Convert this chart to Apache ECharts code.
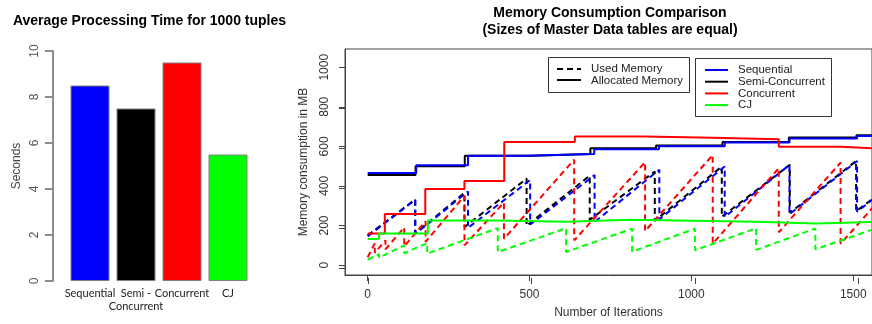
<!DOCTYPE html>
<html>
<head>
<meta charset="utf-8">
<script src="https://cdn.jsdelivr.net/npm/echarts@6/dist/echarts.min.js"></script>
<style>
  html, body { margin: 0; padding: 0; background: #fff; }
  #main { width: 872px; height: 324px; }
</style>
</head>
<body>
<div id="main"></div>
<script>
// left chart: average processing time
var barCategories = ['Sequential', 'Semi -\nConcurrent', 'Concurrent', 'CJ'];
var barSeconds = [8.5, 7.5, 9.5, 5.5];
var barColors = ['#0000ff', '#000000', '#ff0000', '#00ff00'];
var secondsTicks = [0, 2, 4, 6, 8, 10];

// right chart: memory consumption (x = iteration, y = MB)
var iterTicks = [0, 500, 1000, 1500];
var mbTicks = [0, 200, 400, 600, 800, 1000];
var seriesNames = ['Sequential', 'Semi-Concurrent', 'Concurrent', 'CJ'];
var lineColors = ['#0000ff', '#000000', '#ff0000', '#00ff00'];

// allocated memory, step points (value holds from x onwards)
var seqAlloc = [[0,465],[150,505],[310,553],[500,562],[700,585],[900,600],[1103,619],[1303,640],[1512,652],[1560,652]];
var semiAlloc = [[0,455],[148,500],[300,553],[500,562],[688,590],[891,605],[1096,622],[1301,645],[1510,656],[1560,656]];
var concAlloc = [[0,160],[53,258],[178,385],[299,425],[422,622],[640,650],[857,643],[1066,636],[1270,598],[1462,590],[1560,590]];
var cjAlloc = [[0,132],[35,160],[186,226],[402,219],[617,229],[815,219],[1200,210],[1385,218],[1560,218]];

// used memory (sawtooth, repeated x = drop after GC)
var seqUsed = [[0,145],[147,330],[147,158],[310,372],[310,188],[502,430],[502,205],[701,455],[701,218],[901,482],[901,232],[1103,498],[1103,244],[1303,506],[1303,257],[1512,526],[1512,270],[1560,332]];
var semiUsed = [[0,150],[147,332],[147,160],[299,365],[299,192],[491,437],[491,199],[686,452],[686,229],[887,473],[887,224],[1094,498],[1094,244],[1304,507],[1304,264],[1509,526],[1509,272],[1560,335]];
var concUsed = [[0,40],[22,110],[22,62],[55,125],[55,80],[113,190],[113,95],[179,222],[179,118],[299,350],[299,100],[421,316],[421,133],[638,533],[638,125],[857,520],[857,172],[1066,556],[1066,108],[1270,490],[1270,166],[1461,518],[1461,108],[1560,290]];
var cjUsed = [[0,28],[35,55],[35,38],[113,100],[113,60],[184,112],[184,58],[402,187],[402,66],[613,186],[613,66],[817,184],[817,68],[1011,184],[1011,75],[1200,186],[1200,77],[1383,185],[1383,80],[1560,180]];

var usedData = [seqUsed, semiUsed, concUsed, cjUsed];
var allocData = [seqAlloc, semiAlloc, concAlloc, cjAlloc];

var FONT = '"Liberation Sans", Arial, sans-serif';
var chart = echarts.init(document.getElementById('main'));

function plain(v) { return String(v); }

// grid geometry
var g0 = { left: 67, top: 51, width: 184, height: 230 };
var g1 = { left: 345, top: 49, right: -5, bottom: 46 };
var yOffset0 = 14;
var yRange0 = [0, 10];
var xRange1 = [-70, 1558];
var yRange1 = [-50, 1092];

// draw order: semi, seq, conc, cj
var order = [1, 0, 2, 3];
var series = [];
series.push({
  type: 'bar', xAxisIndex: 0, yAxisIndex: 0, barWidth: 39,
  data: barSeconds.map(function (v, i) {
    return { value: v, itemStyle: { color: barColors[i] } };
  }),
  itemStyle: { borderColor: '#808080', borderWidth: 1 },
  silent: true
});
order.forEach(function (i) {
  series.push({
    name: seriesNames[i] + ' used', type: 'line', xAxisIndex: 1, yAxisIndex: 1,
    data: usedData[i], symbol: 'none', silent: true,
    lineStyle: { color: lineColors[i], width: 2, type: [6, 4] }
  });
});
order.forEach(function (i) {
  series.push({
    name: seriesNames[i] + ' allocated', type: 'line', step: 'end', xAxisIndex: 1, yAxisIndex: 1,
    data: allocData[i], symbol: 'none', silent: true,
    lineStyle: { color: lineColors[i], width: 2 }
  });
});

var option = {
  animation: false,
  grid: [
    g0,
    { left: g1.left, top: g1.top, right: g1.right, bottom: g1.bottom, show: true, borderColor: '#444', borderWidth: 1, backgroundColor: 'transparent' }
  ],
  xAxis: [
    {
      type: 'category', gridIndex: 0, data: barCategories,
      axisLine: { show: false }, axisTick: { show: false },
      axisLabel: { margin: 6, fontFamily: 'Lato, sans-serif', fontSize: 11, color: '#222', lineHeight: 13, interval: 0 }
    },
    {
      type: 'value', gridIndex: 1, min: xRange1[0], max: xRange1[1],
      axisLine: { show: true, onZero: false, lineStyle: { color: '#444', width: 1 } },
      axisTick: { show: true, length: 6, customValues: iterTicks, lineStyle: { color: '#444' } },
      axisLabel: { customValues: iterTicks, formatter: plain, margin: 14, fontFamily: FONT, fontSize: 12, color: '#333' },
      splitLine: { show: false },
      name: 'Number of Iterations', nameLocation: 'middle', nameGap: 32,
      nameTextStyle: { fontFamily: FONT, fontSize: 12, color: '#333' }
    }
  ],
  yAxis: [
    {
      type: 'value', gridIndex: 0, min: yRange0[0], max: yRange0[1], interval: 2, offset: yOffset0,
      axisLine: { show: true, onZero: false, lineStyle: { color: '#8c8c8c', width: 2 } },
      axisTick: { show: true, length: 8, lineStyle: { color: '#8c8c8c', width: 2 } },
      axisLabel: { rotate: 90, margin: 12, fontFamily: FONT, fontSize: 12, color: '#555' },
      splitLine: { show: false },
      name: 'Seconds', nameLocation: 'middle', nameRotate: 90, nameGap: 30,
      nameTextStyle: { fontFamily: FONT, fontSize: 12, color: '#444' }
    },
    {
      type: 'value', gridIndex: 1, min: yRange1[0], max: yRange1[1],
      axisLine: { show: true, onZero: false, lineStyle: { color: '#444', width: 1 } },
      axisTick: { show: true, length: 6, customValues: mbTicks, lineStyle: { color: '#444' } },
      axisLabel: { rotate: 90, customValues: mbTicks, formatter: plain, margin: 14, fontFamily: FONT, fontSize: 12, color: '#333' },
      splitLine: { show: false },
      name: 'Memory consumption in MB', nameLocation: 'middle', nameRotate: 90, nameGap: 35,
      nameTextStyle: { fontFamily: FONT, fontSize: 12, color: '#333' }
    }
  ],
  series: series
};
chart.setOption(option);

// axis decorations: linear mapping over each grid's own axis range
var H = 324, W = 872;
var leftAxisX = g0.left - yOffset0;
var plotBottom = H - g1.bottom;
var plotLeft = g1.left;
function lin(v, lo, hi, p0, p1) { return p0 + (v - lo) / (hi - lo) * (p1 - p0); }
function ySec(v) { return lin(v, yRange0[0], yRange0[1], g0.top + g0.height, g0.top); }
function xIter(v) { return lin(v, xRange1[0], xRange1[1], g1.left, W - g1.right); }
function yMb(v) { return lin(v, yRange1[0], yRange1[1], plotBottom, g1.top); }

var graphic = [];
graphic.push({ type: 'rect', z: 20, shape: { x: leftAxisX - 1, y: ySec(10), width: 2, height: ySec(0) - ySec(10) }, style: { fill: '#8c8c8c' } });
secondsTicks.forEach(function (v) {
  var y = Math.round(ySec(v));
  graphic.push({ type: 'rect', z: 20, shape: { x: leftAxisX - 8, y: y - 1, width: 8, height: 2 }, style: { fill: '#8c8c8c' } });
});
iterTicks.forEach(function (v) {
  var x = Math.round(xIter(v)) + 0.5;
  graphic.push({ type: 'line', z: 20, shape: { x1: x, y1: plotBottom, x2: x, y2: plotBottom + 6 }, style: { stroke: '#444', lineWidth: 1 } });
});
mbTicks.forEach(function (v) {
  var y = Math.round(yMb(v)) + 0.5;
  graphic.push({ type: 'line', z: 20, shape: { x1: plotLeft - 6, y1: y, x2: plotLeft, y2: y }, style: { stroke: '#444', lineWidth: 1 } });
});

// titles
graphic.push({ type: 'text', x: 149.5, y: 21, style: { text: 'Average Processing Time for 1000 tuples', font: 'bold 14px ' + FONT, fill: '#000', align: 'center', verticalAlign: 'middle', textAlign: 'center', textVerticalAlign: 'middle' } });
graphic.push({ type: 'text', x: 610, y: 13, style: { text: 'Memory Consumption Comparison', font: 'bold 14px ' + FONT, fill: '#000', align: 'center', verticalAlign: 'middle', textAlign: 'center', textVerticalAlign: 'middle' } });
graphic.push({ type: 'text', x: 610, y: 30, style: { text: '(Sizes of Master Data tables are equal)', font: 'bold 14px ' + FONT, fill: '#000', align: 'center', verticalAlign: 'middle', textAlign: 'center', textVerticalAlign: 'middle' } });

// legend: line type
graphic.push({ type: 'rect', z: 10, shape: { x: 548.5, y: 57.5, width: 141, height: 35 }, style: { fill: '#fff', stroke: '#333', lineWidth: 1 } });
graphic.push({ type: 'line', z: 11, shape: { x1: 557, y1: 69, x2: 581, y2: 69 }, style: { stroke: '#000', lineWidth: 2, lineDash: [6, 4] } });
graphic.push({ type: 'line', z: 11, shape: { x1: 557, y1: 80, x2: 581, y2: 80 }, style: { stroke: '#000', lineWidth: 2 } });
graphic.push({ type: 'text', z: 11, x: 591, y: 69, style: { text: 'Used Memory', font: '11.5px ' + FONT, fill: '#222', verticalAlign: 'middle', textVerticalAlign: 'middle' } });
graphic.push({ type: 'text', z: 11, x: 591, y: 81, style: { text: 'Allocated Memory', font: '11.5px ' + FONT, fill: '#222', verticalAlign: 'middle', textVerticalAlign: 'middle' } });

// legend: algorithm colours
graphic.push({ type: 'rect', z: 10, shape: { x: 695.5, y: 58.5, width: 136, height: 58 }, style: { fill: '#fff', stroke: '#333', lineWidth: 1 } });
seriesNames.forEach(function (name, i) {
  var y = 70 + i * 11.7;
  graphic.push({ type: 'line', z: 11, shape: { x1: 705, y1: y, x2: 728, y2: y }, style: { stroke: lineColors[i], lineWidth: 2 } });
  graphic.push({ type: 'text', z: 11, x: 738, y: y, style: { text: name, font: '11.5px ' + FONT, fill: '#222', verticalAlign: 'middle', textVerticalAlign: 'middle' } });
});

chart.setOption({ graphic: graphic });
</script>
</body>
</html>
